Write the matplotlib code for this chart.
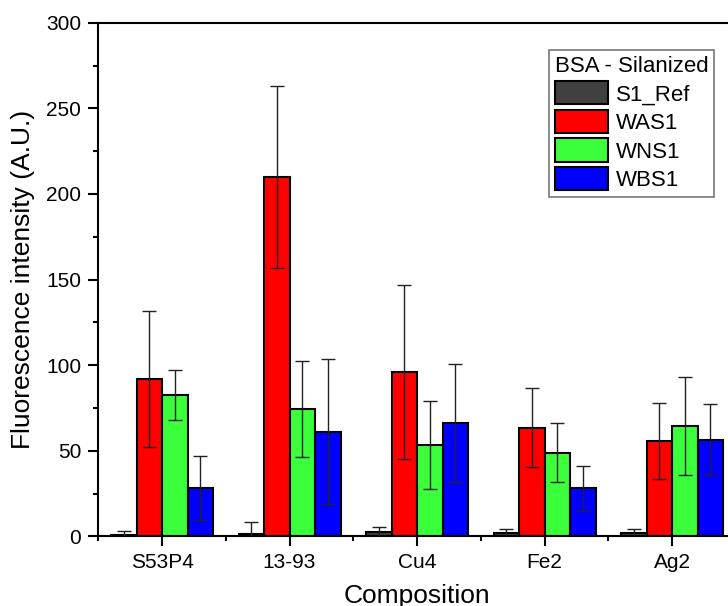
import numpy as np
import matplotlib
matplotlib.use("Agg")
import matplotlib.pyplot as plt
from matplotlib.ticker import MultipleLocator

plt.rcParams['font.family'] = ['Liberation Sans', 'DejaVu Sans']

compositions = ['S53P4', '13-93', 'Cu4', 'Fe2', 'Ag2']
series = ['S1_Ref', 'WAS1', 'WNS1', 'WBS1']
colors = ['#404040', '#ff0000', '#3cff3c', '#0000ff']

s1_ref = [0.9, 1.3, 2.6, 2.0, 2.0]
s1_ref_err = [2.5, 7.0, 3.0, 2.6, 2.6]
was1 = [92.0, 209.9, 96.0, 63.5, 55.8]
was1_err = [39.7, 53.2, 50.6, 23.0, 22.2]
wns1 = [82.8, 74.6, 53.2, 48.8, 64.5]
wns1_err = [14.6, 28.0, 25.7, 17.2, 28.4]
wbs1 = [28.5, 61.2, 66.1, 28.1, 56.5]
wbs1_err = [18.7, 42.5, 34.5, 13.0, 20.7]

values = [s1_ref, was1, wns1, wbs1]
errors = [s1_ref_err, was1_err, wns1_err, wbs1_err]

fig = plt.figure(figsize=(7.28, 6.06), dpi=100)
ax = fig.add_axes([0.135, 0.1147, 0.8757, 0.8478])

x = np.arange(1, len(compositions) + 1)
width = 0.2
offsets = [-0.3, -0.1, 0.1, 0.3]
for i in range(len(series)):
    ax.bar(x + offsets[i], values[i], width, color=colors[i], edgecolor='black',
           linewidth=1.5, label=series[i], zorder=2)
    ax.errorbar(x + offsets[i], values[i], yerr=errors[i], fmt='none',
                ecolor='#222222', elinewidth=1.0, capsize=5, capthick=1.0, zorder=3)

ax.set_xlim(0.5, 5.5)
ax.set_ylim(0, 300)
ax.set_xticks(x)
ax.set_xticklabels(compositions)
ax.xaxis.set_minor_locator(MultipleLocator(1, offset=0.5))
ax.yaxis.set_major_locator(MultipleLocator(50))
ax.yaxis.set_minor_locator(MultipleLocator(25))
ax.tick_params(axis='both', which='major', direction='out', length=7.2, width=1.5,
               labelsize=15)
ax.tick_params(axis='both', which='minor', direction='out', length=3.6, width=1.5)
ax.tick_params(axis='x', which='major', pad=5)
ax.tick_params(axis='y', which='major', pad=5)
for sp in ax.spines.values():
    sp.set_linewidth(1.5)

ax.set_xlabel('Composition', fontsize=19, labelpad=8)
ax.set_ylabel('Fluorescence intensity (A.U.)', fontsize=19, labelpad=8)

leg = ax.legend(title='BSA - Silanized', loc='upper right',
                bbox_to_anchor=(714 / 728, 1 - 50 / 606), bbox_transform=fig.transFigure,
                borderaxespad=0, fontsize=16, title_fontsize=16, fancybox=False,
                framealpha=1, edgecolor='#777777', handlelength=2.4, handleheight=1.25,
                handletextpad=0.35, labelspacing=0.2, borderpad=0.25)
leg._legend_box.align = 'left'
leg.get_frame().set_linewidth(1.2)

fig.savefig('out.png', dpi=100)
